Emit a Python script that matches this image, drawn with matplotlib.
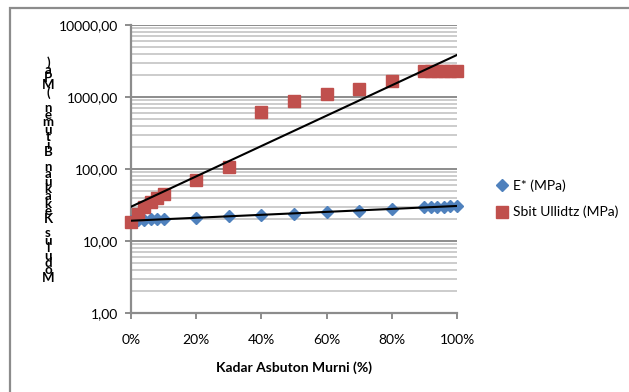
import numpy as np
import matplotlib.pyplot as plt
from matplotlib.patches import Rectangle
from matplotlib.ticker import FixedLocator, LogLocator, NullFormatter

# Kadar asbuton murni (fraction) and stiffness values (MPa)
kadar = [0.00, 0.02, 0.04, 0.06, 0.08, 0.10, 0.20, 0.30, 0.40, 0.50,
         0.60, 0.70, 0.80, 0.90, 0.92, 0.94, 0.96, 0.98, 1.00]
e_star = [19.0, 19.5, 19.5, 20.0, 20.0, 20.0, 21.0, 22.0, 23.0, 24.0,
          25.0, 26.0, 27.5, 29.5, 29.5, 30.0, 30.0, 31.0, 31.0]
sbit = [18.5, 24.0, 30.0, 35.0, 40.0, 45.0, 70.0, 105.0, 620.0, 880.0,
        1100.0, 1300.0, 1650.0, 2300.0, 2300.0, 2300.0, 2300.0, 2300.0, 2300.0]

y_label = "Modulus Kekakuan Bitumen (MPa)"
x_label = "Kadar Asbuton Murni (%)"
x_ticks = [0, 0.2, 0.4, 0.6, 0.8, 1.0]
x_ticklabels = ["0%", "20%", "40%", "60%", "80%", "100%"]
y_ticks = [1, 10, 100, 1000, 10000]
y_ticklabels = ["1,00", "10,00", "100,00", "1000,00", "10000,00"]

plt.rcParams['font.family'] = ['Lato', 'DejaVu Sans']

fig = plt.figure(figsize=(6.29, 3.92), dpi=100)
ax = fig.add_axes([131 / 629, 1 - 313 / 392, 326 / 629, 288 / 392])

# outer chart border (only left and top visible)
fig.add_artist(Rectangle((10 / 629, -0.1), 1.2, 1 - 8 / 392 + 0.1,
                         transform=fig.transFigure, fill=False,
                         edgecolor='#8c8c8c', lw=1.6))

ax.set_yscale('log')
ax.set_ylim(1, 10000)
ax.set_xlim(0, 1.0)

ax.yaxis.set_major_locator(FixedLocator(y_ticks))
ax.set_yticklabels(y_ticklabels)
ax.yaxis.set_minor_locator(LogLocator(base=10, subs=np.arange(2, 10)))
ax.yaxis.set_minor_formatter(NullFormatter())
ax.set_xticks(x_ticks)
ax.set_xticklabels(x_ticklabels)

ax.grid(which='major', axis='y', color='#8c8c8c', lw=1.4)
ax.grid(which='minor', axis='y', color='#c4c4c4', lw=1.2)
ax.set_axisbelow(True)

for s in ['top', 'right']:
    ax.spines[s].set_visible(False)
for s in ['left', 'bottom']:
    ax.spines[s].set_color('#8c8c8c')
    ax.spines[s].set_linewidth(1.6)
ax.tick_params(which='major', direction='out', length=4, width=1.4,
               color='#8c8c8c', labelsize=10, pad=5)
ax.tick_params(which='minor', length=0)
ax.tick_params(axis='x', pad=11)

# exponential trend lines (linear fit on log values)
xs = np.array(kadar)
for vals in (e_star, sbit):
    b, a = np.polyfit(xs, np.log(vals), 1)
    xf = np.linspace(xs.min(), xs.max(), 50)
    ax.plot(xf, np.exp(a + b * xf), color='black', lw=1.5, zorder=4)

ax.plot(kadar, e_star, ls='none', marker='D', ms=6.5, color='#4f81bd',
        label='E* (MPa)', zorder=3, clip_on=False)
ax.plot(kadar, sbit, ls='none', marker='s', ms=8, color='#c0504d',
        label='Sbit Ullidtz (MPa)', zorder=3, clip_on=False)

ax.legend(loc='center left', bbox_to_anchor=(1.105, 0.396), frameon=False,
          fontsize=10, handlelength=0.8, handletextpad=0.4,
          labelspacing=1.0, borderaxespad=0)

ax.set_xlabel(x_label, fontsize=10, fontweight='bold', labelpad=11)

# y label drawn as stacked characters, like the source
fig.text(48 / 629, 1 - 170 / 392, "\n".join(reversed(y_label)),
         ha='center', va='center', fontsize=9.5, fontweight='bold',
         linespacing=0.54)

fig.savefig('out.png', dpi=100)
